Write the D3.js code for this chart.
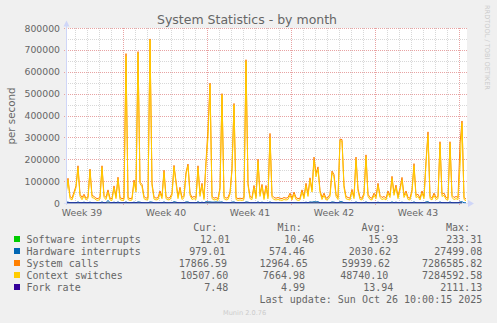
<!DOCTYPE html>
<html>
<head>
  <title>System Statistics - by month</title>
  <script type="text/javascript" src="https://cdn.jsdelivr.net/npm/d3@7"></script>
  <style type="text/css">
    body {
      margin: 0px;
      background: #f0f0f0;
    }
    svg { display: block; }
    text { fill: #666666; font-family: "DejaVu Sans", sans-serif; }
    text.mono { font-family: "DejaVu Sans Mono", monospace; font-size: 10px; }
  </style>
</head>
<body>
  <svg width="497" height="323"></svg>
  <script type="text/javascript">
    // one point every 4 hours, values in thousands per second
    var sysCallsK = [45,113,30,22,50,78,170,40,25,40,
      22,28,155,35,30,22,20,28,170,35,
      25,60,22,20,78,30,118,25,20,22,
      683,25,20,22,105,60,692,95,85,30,
      22,25,750,90,28,22,25,55,30,150,
      30,22,25,45,172,100,30,72,25,35,
      140,178,45,25,30,25,170,40,90,25,
      190,340,548,30,22,25,20,70,500,30,
      22,25,50,158,455,25,20,22,20,25,
      655,90,30,25,80,30,200,40,85,25,
      80,30,318,35,25,22,25,22,20,25,
      22,25,45,22,50,25,20,22,60,30,
      90,40,115,60,210,135,165,58,25,45,
      22,25,40,146,130,40,25,292,290,80,
      30,25,22,62,30,210,65,25,22,45,
      220,40,25,22,45,30,90,35,25,30,
      22,55,35,122,45,82,30,68,117,35,
      55,25,22,60,180,35,40,22,55,30,
      190,325,30,22,45,25,30,280,40,45,
      25,22,280,35,25,30,25,270,375,25,
      17.9];
    var ctxSwitchK = [35,105,20,14,40,70,160,30,15,32,
      14,20,148,25,22,14,12,18,162,25,
      16,50,14,12,70,20,110,16,12,14,
      670,16,12,14,95,50,685,88,75,20,
      14,16,745,80,18,14,16,45,20,140,
      20,14,16,35,165,90,20,62,16,25,
      130,170,35,16,20,16,160,30,80,16,
      180,300,540,20,14,16,12,60,495,20,
      14,16,40,150,448,16,12,14,12,16,
      648,80,20,16,70,20,190,30,75,16,
      70,20,300,25,16,14,16,14,12,16,
      14,16,35,14,40,16,12,14,50,20,
      80,30,105,50,195,120,155,48,16,35,
      14,16,30,138,120,30,16,285,282,70,
      20,16,14,52,20,200,55,16,14,35,
      210,30,16,14,35,20,80,25,16,20,
      14,45,25,112,35,72,20,58,105,25,
      45,16,14,50,170,25,30,14,45,20,
      180,310,20,14,35,16,20,270,30,35,
      16,14,272,25,16,20,16,165,365,16,
      10.5];
    var hwIntK = [5,4,1.5,1.2,1.5,1.2,5,1.5,1.2,4,
      1.2,1.5,4,1.2,1.5,1.2,1,1.2,5,1.5,
      1.2,12,1.2,1,4,1.5,5,1.2,1,1.2,
      5,1.2,1,1.2,4,1.5,5,4,1.5,1.2,
      1,1.2,5,4,1.2,1,1.2,1.5,1.2,5,
      1.2,1,1.2,1.5,6,4,1.2,1.5,1.2,1.5,
      5,5,1.5,1.2,1.2,1,6,1.5,4,1.2,
      6,5,5,4,4,5,4,4,5,1.2,
      1,1.2,1.5,4,5,1.2,1,1.2,1,1.2,
      5,4,1.2,1,1.5,1.2,5,1.2,4,1.2,
      1.5,1.2,5,1.2,1,1.2,1,1.2,1,1.2,
      1,1.2,1.5,1,1.5,1.2,1,1.2,1.5,1.2,
      4,1.5,5,4,6,5,6,1.5,1.2,1.5,
      1,1.2,1.5,5,4,1.5,1.2,6,6,1.5,
      1.2,1,1.2,1.5,1.2,5,1.5,1.2,1,1.5,
      5,1.5,1.2,1,1.5,1.2,4,1.2,1,1.2,
      1,1.5,1.2,5,1.5,4,1.2,1.5,4,1.2,
      1.5,1.2,1,1.5,5,1.2,1.2,1,1.5,1.2,
      5,6,1.2,1,1.5,1.2,1.2,5,1.2,1.5,
      1.2,1,5,1.2,1,1.2,1.2,5,6,1.2,
      0.98];
    // one point per day, per second
    var swIntDaily = [16.1,15.8,16.4,15.9,16.2,15.7,16.0,15.9,16.3,15.8,16.1,15.6,15.9,16.2,15.8,16.0,15.7,
      16.1,15.9,15.8,16.2,15.9,15.7,16.0,15.8,16.1,15.9,15.7,16.0,15.8,15.9,16.1,15.8,12.0];
    var forkDaily = [14.2,13.8,14.1,13.9,14.3,13.7,14.0,13.9,14.2,13.8,14.1,13.6,13.9,14.2,13.8,14.0,13.7,
      14.1,13.9,13.8,14.2,13.9,13.7,14.0,13.8,14.1,13.9,13.7,14.0,13.8,13.9,14.1,13.8,7.5];

    var yTicks = [0, 100000, 200000, 300000, 400000, 500000, 600000, 700000, 800000];
    var seriesNames = ["Software interrupts", "Hardware interrupts", "System calls", "Context switches", "Fork rate"];
    var seriesColors = ["#00cc00", "#0066b3", "#ff8000", "#ffcc00", "#330099"];
    var curVals = ["12.01", "979.01", "17866.59", "10507.60", "7.48"];
    var minVals = ["10.46", "574.46", "12964.65", "7664.98", "4.99"];
    var avgVals = ["15.93", "2030.62", "59939.62", "48740.10", "13.94"];
    var maxVals = ["233.31", "27499.08", "7286585.82", "7284592.58", "2111.13"];
    var lastUpdate = "Last update: Sun Oct 26 10:00:15 2025";

    var HOUR = 3600 * 1000;
    var end = new Date(Date.UTC(2025, 9, 26, 12));
    var start = new Date(end.getTime() - 800 * HOUR);

    var svg = d3.select("svg");
    var plotL = 66, plotR = 466, plotT = 28, plotB = 203;

    var x = d3.scaleUtc().domain([start, end]).range([plotL, plotR]);
    var y = d3.scaleLinear().domain([0, 800000]).range([plotB, plotT]);
    var crisp = function(v){ return Math.round(v) + 0.5; };

    svg.append("rect").attr("width", 497).attr("height", 323).attr("fill", "#f0f0f0");
    svg.append("rect")
      .attr("x", plotL).attr("y", plotT)
      .attr("width", plotR - plotL + 1).attr("height", plotB - plotT)
      .attr("fill", "#ffffff");

    // grid
    var grid = svg.append("g").attr("fill", "none").attr("stroke-dasharray", "1,1");
    var minorY = d3.range(50000, 800000, 100000);
    grid.selectAll(".hmin").data(minorY).enter().append("line")
      .attr("x1", plotL).attr("x2", plotR + 2)
      .attr("y1", function(d){ return crisp(y(d)); }).attr("y2", function(d){ return crisp(y(d)); })
      .attr("stroke", "#d8d8d8");
    grid.selectAll(".hmaj").data(yTicks.slice(1)).enter().append("line")
      .attr("x1", plotL - 2).attr("x2", plotR + 2)
      .attr("y1", function(d){ return crisp(y(d)); }).attr("y2", function(d){ return crisp(y(d)); })
      .attr("stroke", "#e8a3a3");

    var days = d3.utcDay.range(start, end);
    var weeks = d3.utcSunday.range(start, end);
    grid.selectAll(".vmin").data(days).enter().append("line")
      .attr("x1", function(d){ return crisp(x(d)) - 1; }).attr("x2", function(d){ return crisp(x(d)) - 1; })
      .attr("y1", plotT).attr("y2", plotB)
      .attr("stroke", "#d8d8d8");
    grid.selectAll(".vmaj").data(weeks).enter().append("line")
      .attr("x1", function(d){ return crisp(x(d)) - 1; }).attr("x2", function(d){ return crisp(x(d)) - 1; })
      .attr("y1", plotT).attr("y2", plotB + 2)
      .attr("stroke", "#e8a3a3");

    // y labels
    svg.append("g").selectAll("text").data(yTicks).enter().append("text")
      .attr("x", 60).attr("y", function(d){ return y(d) + 3.5; })
      .attr("text-anchor", "end").attr("font-size", "9.3px")
      .text(function(d){ return d; });

    // week labels, centred on the middle of each week
    var labelWeeks = d3.utcSunday.range(d3.utcSunday.floor(start), end)
      .map(function(d){ return new Date(d.getTime() + 84 * HOUR); })
      .filter(function(d){ return d <= end; });
    svg.append("g").selectAll("text").data(labelWeeks).enter().append("text")
      .attr("x", function(d){ return x(d); }).attr("y", 215.5)
      .attr("text-anchor", "middle").attr("font-size", "9.3px")
      .text(d3.utcFormat("Week %V"));

    // series
    svg.append("clipPath").attr("id", "clip").append("rect")
      .attr("x", plotL).attr("y", plotT - 1).attr("width", plotR - plotL + 1).attr("height", plotB - plotT + 2);
    var plot = svg.append("g").attr("clip-path", "url(#clip)");

    var fourHourly = d3.line()
      .x(function(d, i){ return x(new Date(start.getTime() + i * 4 * HOUR)); })
      .y(function(d){ return y(d * 1000); });
    var daily = d3.line()
      .x(function(d, i){ return x(new Date(start.getTime() + i * 24 * HOUR)); })
      .y(function(d){ return y(d); });

    var series = [
      {data: swIntDaily, line: daily},
      {data: hwIntK, line: fourHourly},
      {data: sysCallsK, line: fourHourly},
      {data: ctxSwitchK, line: fourHourly},
      {data: forkDaily, line: daily}
    ];
    series.forEach(function(s, k){
      plot.append("path")
        .attr("d", s.line(s.data))
        .attr("fill", "none")
        .attr("stroke", seriesColors[k])
        .attr("stroke-width", 1);
    });

    // axes with arrows
    var axisColor = "#cfd6f8";
    svg.append("line").attr("x1", plotL + 0.5).attr("x2", plotL + 0.5).attr("y1", plotB + 2).attr("y2", 24)
      .attr("stroke", axisColor);
    svg.append("path").attr("d", "M63.5,26.5 L66.5,20.5 L69.5,26.5 Z").attr("fill", axisColor);
    svg.append("line").attr("x1", plotL - 2).attr("x2", 470).attr("y1", plotB + 0.5).attr("y2", plotB + 0.5)
      .attr("stroke", axisColor).attr("opacity", 0.6);
    svg.append("path").attr("d", "M468,200 L474,203.5 L468,207 Z").attr("fill", axisColor);

    // titles
    svg.append("text").attr("x", 247).attr("y", 23.5).attr("text-anchor", "middle")
      .attr("font-size", "12.5px").text("System Statistics - by month");
    svg.append("text").attr("transform", "translate(15,116) rotate(-90)")
      .attr("text-anchor", "middle").attr("font-size", "10.3px").text("per second");
    svg.append("text").attr("transform", "translate(484.5,5) rotate(90)")
      .attr("font-size", "6.6px").style("fill", "#cccccc").text("RRDTOOL / TOBI OETIKER");
    svg.append("text").attr("x", 223).attr("y", 315)
      .attr("font-size", "6.6px").style("fill", "#cccccc").text("Munin 2.0.76");

    // legend
    var legend = svg.append("g");
    var headers = [["Cur:", 217.3], ["Min:", 301.7], ["Avg:", 385.7], ["Max:", 470]];
    headers.forEach(function(h){
      legend.append("text").attr("class", "mono").attr("x", h[1]).attr("y", 231)
        .attr("text-anchor", "end").text(h[0]);
    });
    var curEnd = [230, 225.3, 227, 228.3, 228.3];
    var minEnd = [314.3, 305, 307.7, 305, 305];
    var avgEnd = [398.3, 391, 390, 388.3, 393.3];
    seriesNames.forEach(function(name, k){
      var by = 243 + 12 * k;
      legend.append("rect").attr("x", 14).attr("y", by - 7).attr("width", 6).attr("height", 6)
        .attr("fill", seriesColors[k]);
      legend.append("text").attr("class", "mono").attr("x", 26.5).attr("y", by).text(name);
      legend.append("text").attr("class", "mono").attr("x", curEnd[k]).attr("y", by)
        .attr("text-anchor", "end").text(curVals[k]);
      legend.append("text").attr("class", "mono").attr("x", minEnd[k]).attr("y", by)
        .attr("text-anchor", "end").text(minVals[k]);
      legend.append("text").attr("class", "mono").attr("x", avgEnd[k]).attr("y", by)
        .attr("text-anchor", "end").text(avgVals[k]);
      legend.append("text").attr("class", "mono").attr("x", 482.3).attr("y", by)
        .attr("text-anchor", "end").text(maxVals[k]);
    });
    legend.append("text").attr("class", "mono").attr("x", 482.3).attr("y", 303)
      .attr("text-anchor", "end").text(lastUpdate);
  </script>
</body>
</html>
